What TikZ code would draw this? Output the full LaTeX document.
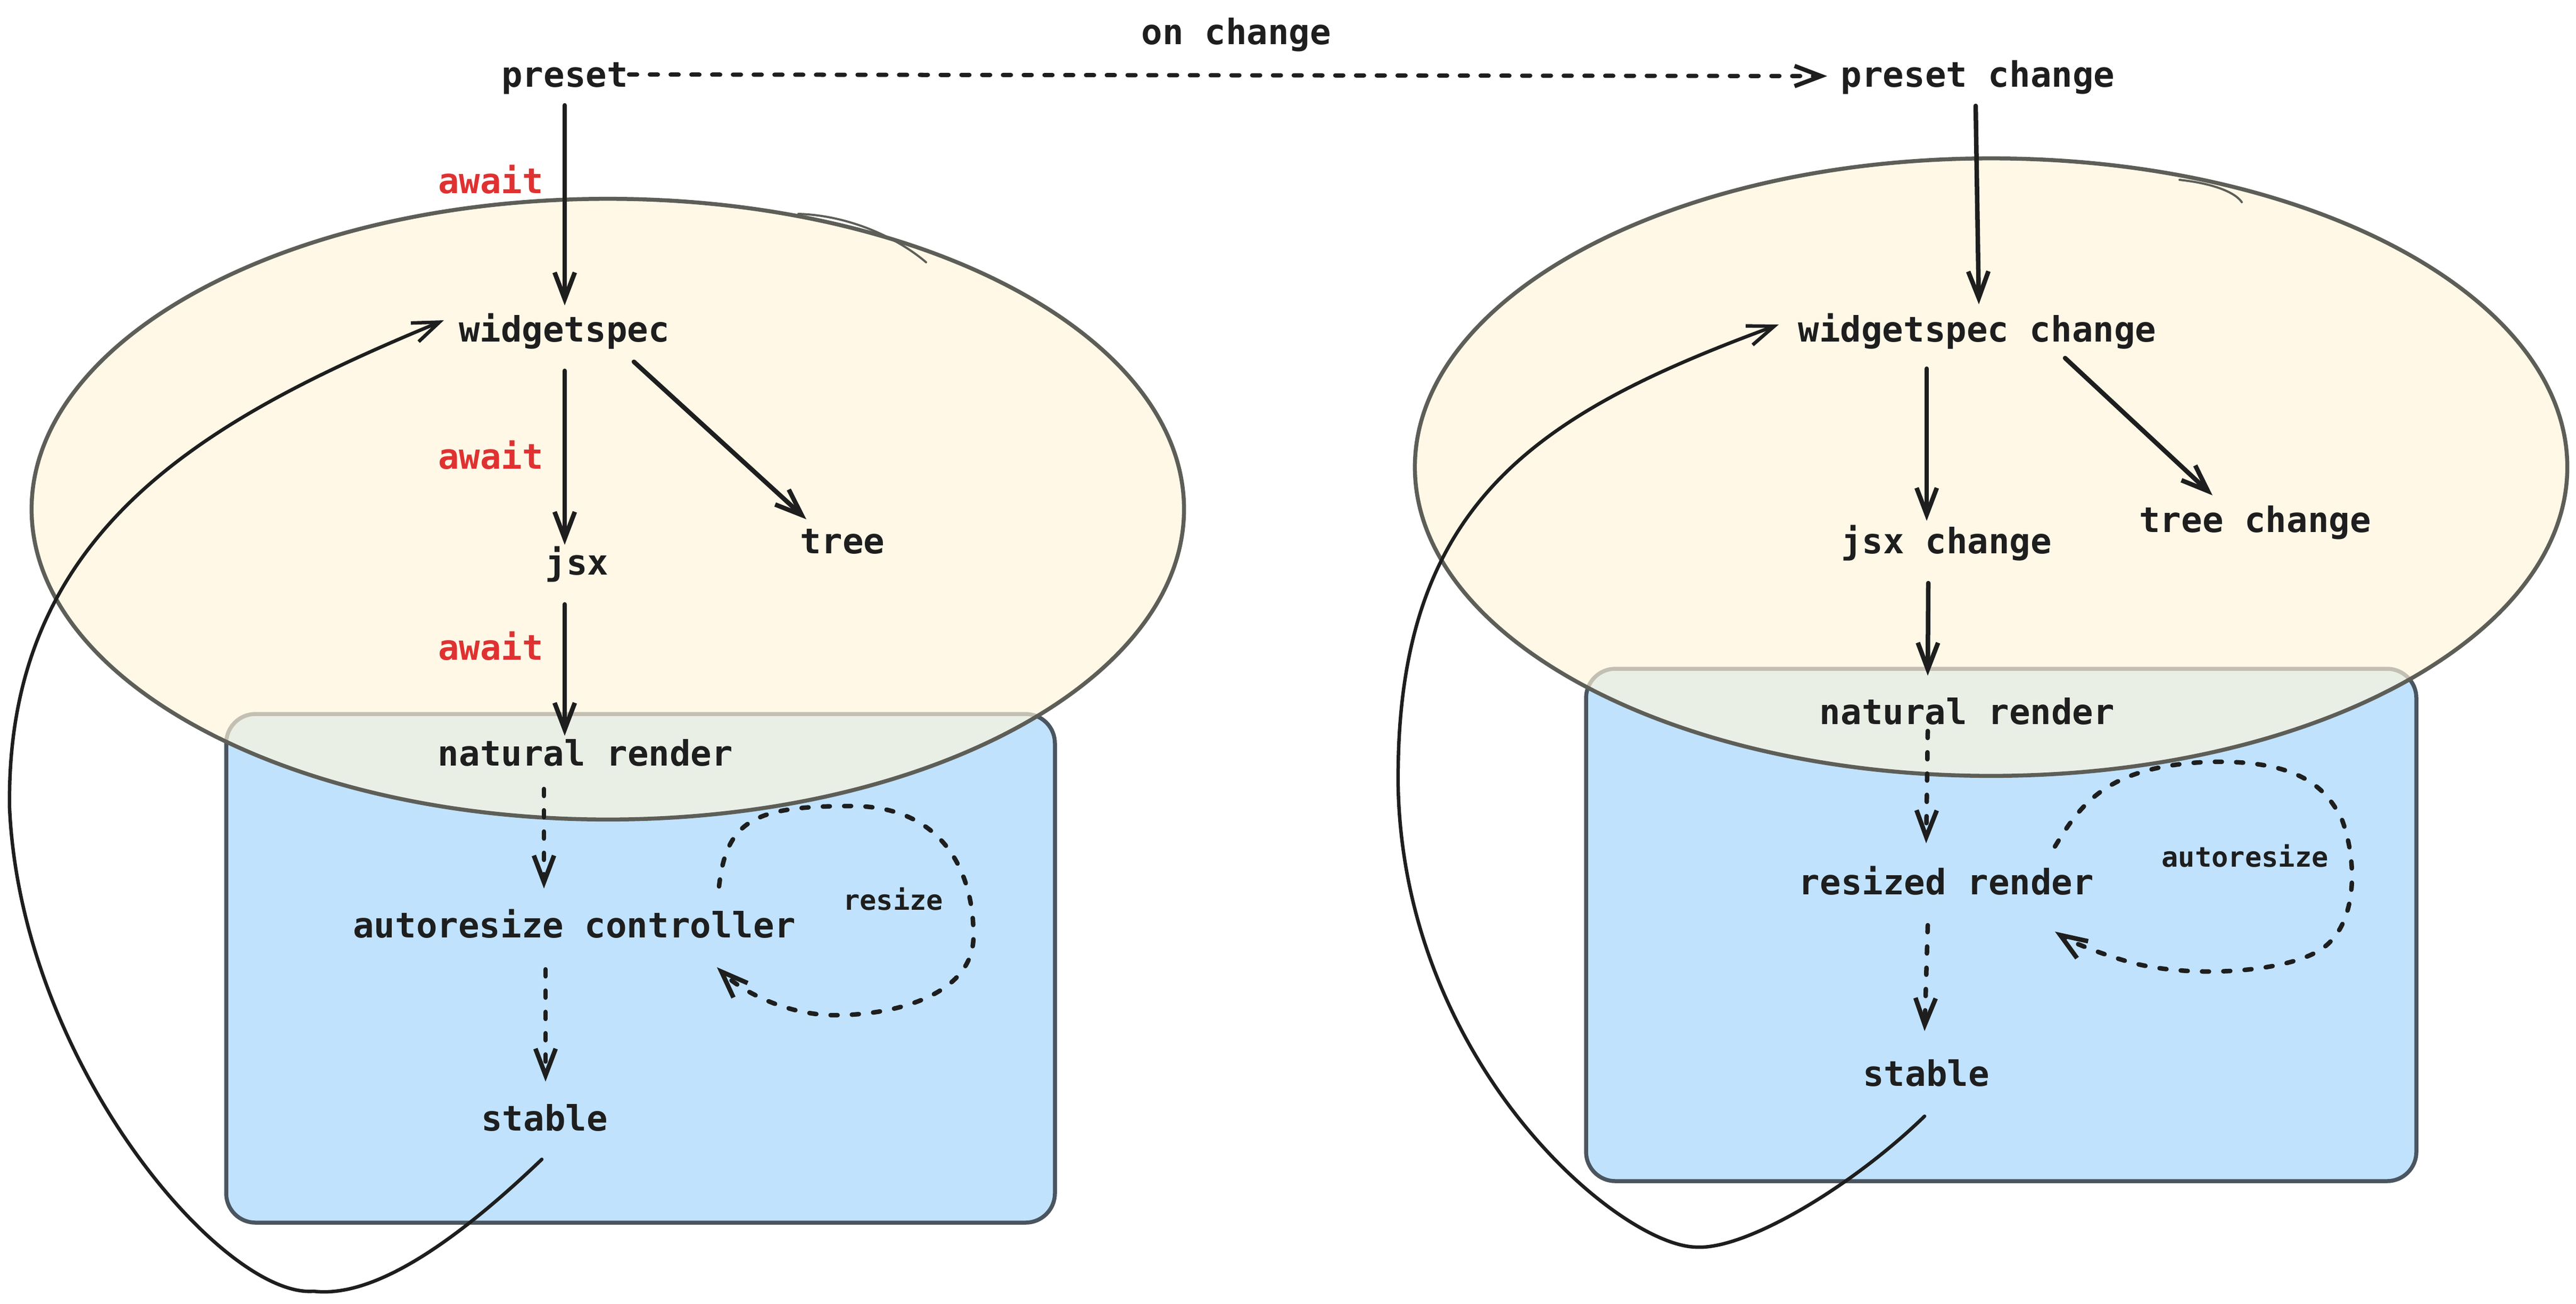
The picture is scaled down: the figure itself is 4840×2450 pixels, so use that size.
\documentclass[tikz,border=0pt]{standalone}
\usepackage{fontspec}
\newfontfamily\handfont{DejaVu Sans Mono}
\usetikzlibrary{arrows.meta}
\definecolor{ink}{HTML}{1E1E1E}
\definecolor{awaitred}{HTML}{E03131}
\definecolor{boxblue}{HTML}{C0E2FC}
\definecolor{boxline}{HTML}{4A5560}
\definecolor{ellfill}{HTML}{FFF6DC}
\definecolor{ellline}{HTML}{5E5E58}
\begin{document}
\begin{tikzpicture}[x=0.01cm,y=-0.01cm,
  lbl/.style={anchor=base, inner sep=0.1cm, text=ink, font=\handfont\bfseries\fontsize{18.7}{22}\selectfont},
  small/.style={lbl, font=\handfont\bfseries\fontsize{14.8}{18}\selectfont},
  aw/.style={lbl, text=awaitred},
  conn/.style={draw=ink, line width=0.085cm, line cap=round, line join=round, -{Straight Barb[length=0.5cm,width=0.38cm]}},
  dashconn/.style={conn, dash pattern=on 0.13cm off 0.27cm},
  dotconn/.style={conn, line width=0.08cm, dash pattern=on 0.15cm off 0.24cm},
  loopconn/.style={conn, line width=0.065cm},
  blockbox/.style={fill=boxblue, draw=boxline, line width=0.075cm, rounded corners=0.55cm},
  blob/.style={fill=ellfill, fill opacity=0.67, draw=ellline, line width=0.075cm},
  nub/.style={draw=ellline, line width=0.04cm, line cap=round},
]
\useasboundingbox (0,0) rectangle (4840,2450);
\fill[white] (0,0) rectangle (4840,2450);

% boxes
\draw[blockbox] (425,1342) rectangle (1982,2298);
\draw[blockbox] (2980,1257) rectangle (4540,2220);
% ellipses
\draw[blob] (1142,957) ellipse [x radius=10.82cm, y radius=5.83cm];
\draw[blob] (3741,878) ellipse [x radius=10.82cm, y radius=5.80cm];
\draw[nub] (1500,402) .. controls (1600,405) and (1690,450) .. (1740,493);
\draw[nub] (4095,338) .. controls (4160,345) and (4200,362) .. (4212,380);

% left nodes
\node[lbl] (preset) at (1061,163) {preset};
\node[lbl] (oc) at (2323,83) {on change};
\node[aw] (aw1) at (922,363) {await};
\node[lbl] (ws) at (1060,642) {widgetspec};
\node[aw] (aw2) at (922,881) {await};
\node[lbl] (tree) at (1583,1040) {tree};
\node[lbl] (jsx) at (1084,1080) {jsx};
\node[aw] (aw3) at (922,1240) {await};
\node[lbl] (nr1) at (1100,1439) {natural render};
\node[lbl] (arc) at (1079,1762) {autoresize controller};
\node[lbl] (st1) at (1023,2125) {stable};
\node[small] (resize) at (1678,1710) {resize};

% right nodes
\node[lbl] (pc) at (3716,163) {preset change};
\node[lbl] (wsc) at (3715,642) {widgetspec change};
\node[lbl] (jsxc) at (3657,1040) {jsx change};
\node[lbl] (treec) at (4237,1000) {tree change};
\node[lbl] (nr2) at (3696,1361) {natural render};
\node[lbl] (rr) at (3657,1681) {resized render};
\node[lbl] (st2) at (3619,2041) {stable};
\node[small] (ar) at (4218,1629) {autoresize};

% left connectors
\draw[dotconn] ([shift={(121,-23)}]preset.base) -- ([shift={(-283,-20)}]pc.base);
\draw[conn] ([shift={(0,35)}]preset.base) -- ([shift={(1,-68)}]ws.base);
\draw[conn] ([shift={(1,55)}]ws.base) -- ([shift={(-23,-56)}]jsx.base);
\draw[conn] ([shift={(131,38)}]ws.base) -- ([shift={(-68,-64)}]tree.base);
\draw[conn] ([shift={(-23,56)}]jsx.base) -- ([shift={(-39,-56)}]nr1.base);
\draw[dashconn] ([shift={(-78,44)}]nr1.base) -- ([shift={(-57,-92)}]arc.base);
\draw[dashconn] ([shift={(-54,60)}]arc.base) -- ([shift={(2,-92)}]st1.base);
\draw[dashconn] ([shift={(272,-96)}]arc.base) .. controls (1365,1540) and (1420,1515) .. (1600,1515)
   .. controls (1780,1515) and (1830,1650) .. (1829,1760)
   .. controls (1829,1870) and (1680,1910) .. (1560,1908)
   .. controls (1470,1905) and (1390,1860) .. ([shift={(268,56)}]arc.base);
\draw[loopconn] ([shift={(-5,54)}]st1.base) .. controls (850,2340) and (700,2440) .. (589,2427)
   .. controls (420,2440) and (40,2000) .. (18,1519)
   .. controls (10,1000) and (380,790) .. ([shift={(-226,-40)}]ws.base);

% right connectors
\draw[conn] ([shift={(-4,36)}]pc.base) -- ([shift={(3,-70)}]wsc.base);
\draw[conn] ([shift={(-95,51)}]wsc.base) -- ([shift={(-37,-61)}]jsxc.base);
\draw[conn] ([shift={(165,31)}]wsc.base) -- ([shift={(-80,-69)}]treec.base);
\draw[conn] ([shift={(-34,56)}]jsxc.base) -- ([shift={(-74,-91)}]nr2.base);
\draw[dashconn] ([shift={(-74,13)}]nr2.base) -- ([shift={(-38,-96)}]rr.base);
\draw[dashconn] ([shift={(-35,58)}]rr.base) -- ([shift={(-3,-103)}]st2.base);
\draw[dashconn] ([shift={(204,-90)}]rr.base) .. controls (3910,1510) and (3960,1440) .. (4150,1432)
   .. controls (4320,1428) and (4370,1480) .. (4400,1540)
   .. controls (4430,1620) and (4430,1740) .. (4360,1785)
   .. controls (4290,1830) and (4100,1840) .. (3990,1805)
   .. controls (3940,1790) and (3890,1770) .. ([shift={(204,70)}]rr.base);
\draw[loopconn] ([shift={(-3,57)}]st2.base) .. controls (3480,2230) and (3280,2350) .. (3186,2344)
   .. controls (3040,2340) and (2640,2000) .. (2627,1482)
   .. controls (2620,950) and (2880,780) .. ([shift={(-373,-32)}]wsc.base);
\end{tikzpicture}
\end{document}
